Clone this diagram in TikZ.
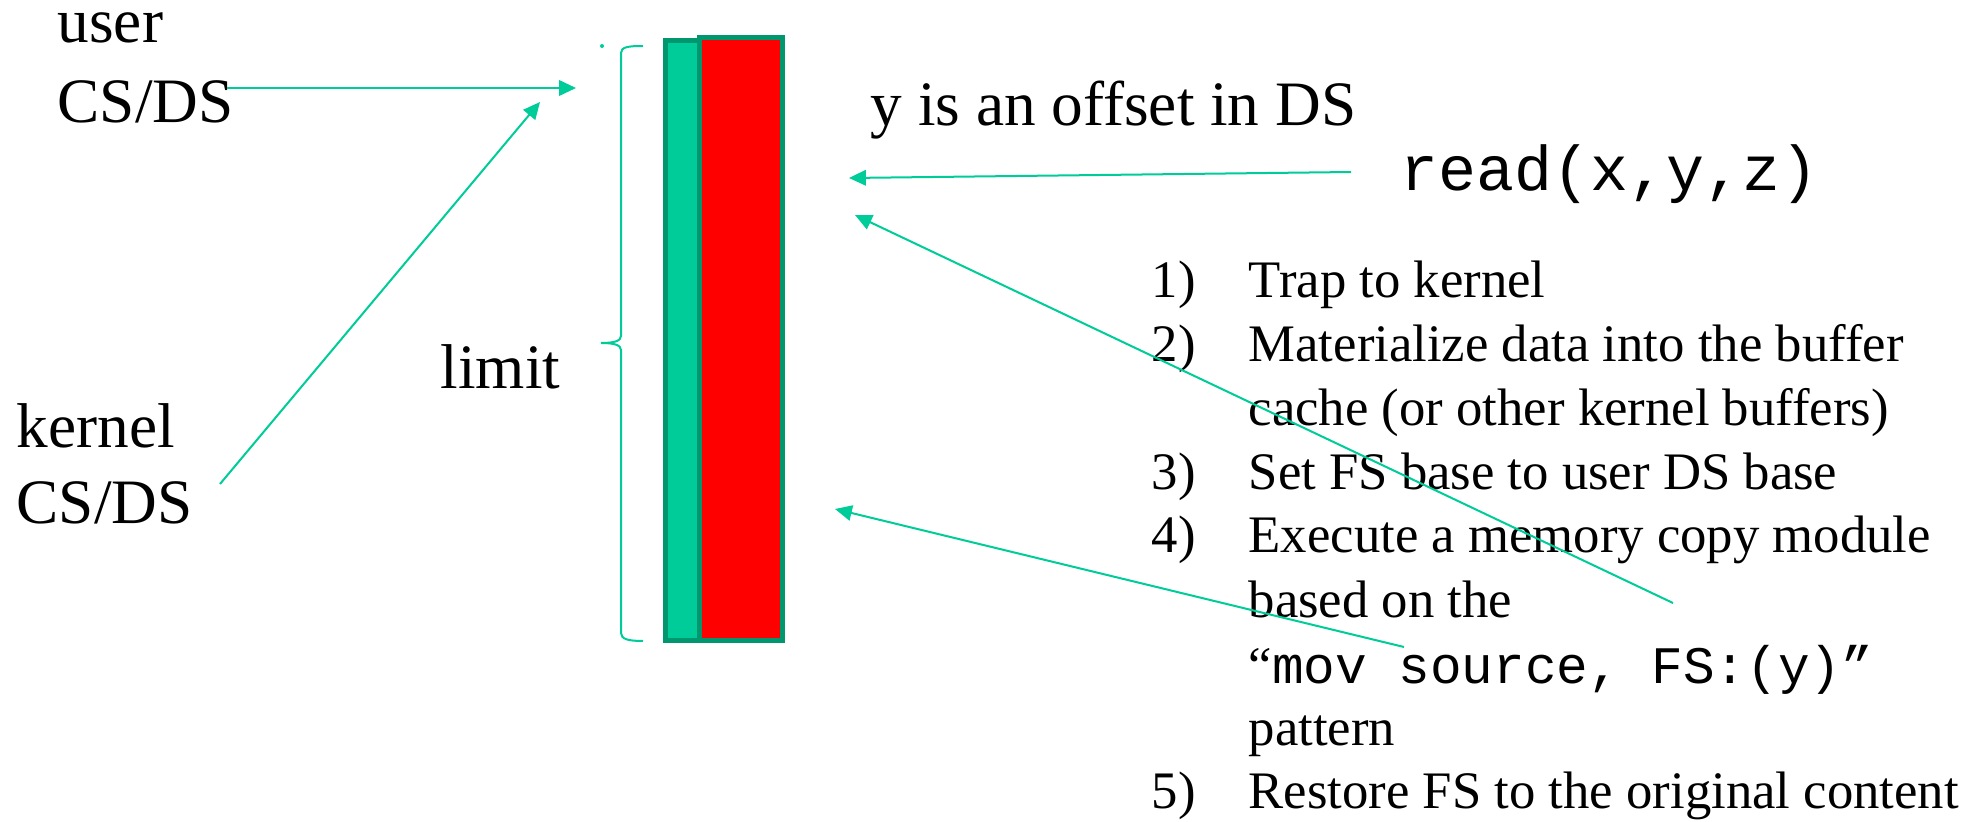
\documentclass[tikz,border=0pt]{standalone}
\usepackage{fontspec}
\setmainfont{Liberation Serif}
\setmonofont{Liberation Mono}
\usetikzlibrary{arrows.meta}
\definecolor{tealA}{RGB}{0,204,153}
\definecolor{tealB}{RGB}{0,150,110}
\begin{document}
\begin{tikzpicture}[x=0.1mm,y=-0.1mm,
  lbl/.style={anchor=base west,inner sep=0pt,font=\fontsize{18}{21}\selectfont},
  item/.style={anchor=base west,inner sep=0pt,font=\fontsize{15}{18}\selectfont},
  conn/.style={draw=tealA,line width=0.57pt,-{Triangle[length=4.8pt,width=4.4pt]}},
  bar/.style={draw=tealB,line width=1.42pt}]
\useasboundingbox (0,0) rectangle (1977,822);

% segment bars
\filldraw[bar,fill=tealA] (665.5,40.5) rectangle (700,640.5);
\filldraw[bar,fill=red] (699.5,37.5) rectangle (782.5,640.5);

% brace
\draw[tealA,line width=0.57pt] (643,46) .. controls (628,46) and (621,47) .. (621,53)
  -- (621,336) .. controls (621,341) and (614,343) .. (601,343)
  .. controls (614,343) and (621,345) .. (621,350)
  -- (621,633) .. controls (621,639) and (628,641) .. (643,641);
\fill[tealA] (602,46) circle (2);

% labels
\node[lbl] (user) at (57,43) {user};
\node[lbl] (userds) at (57,122) {CS/DS};
\node[lbl] (kernel) at (16,447) {kernel};
\node[lbl] (kernelds) at (16,523) {CS/DS};
\node[lbl] (limit) at (440,388) {limit};
\node[lbl] (offset) at (870,126) {y is an offset in DS};
\node[lbl,font=\fontsize{18}{21}\selectfont\ttfamily] (read) at (1400,190) {read(x,y,z)};

% list
\node[item] (n1) at (1151,298) {1)};
\node[item] (t1) at (1248,298) {Trap to kernel};
\node[item] (n2) at (1151,361) {2)};
\node[item] (t2) at (1248,361) {Materialize data into the buffer};
\node[item] (t2b) at (1248,425) {cache (or other kernel buffers)};
\node[item] (n3) at (1151,489) {3)};
\node[item] (t3) at (1248,489) {Set FS base to user DS base};
\node[item] (n4) at (1151,552) {4)};
\node[item] (t4) at (1248,552) {Execute a memory copy module};
\node[item] (t4b) at (1248,617) {based on the};
\node[item] (t4c) at (1248,683) {“\texttt{mov source, FS:(y)”}};
\node[item] (t4d) at (1248,745) {pattern};
\node[item] (n5) at (1151,808) {5)};
\node[item] (t5) at (1248,808) {Restore FS to the original content};

% connectors
\coordinate (a1s) at (227,88);  \coordinate (a1e) at (576,88);
\coordinate (a2s) at (220,484); \coordinate (a2e) at (540,102);
\coordinate (a3s) at (1351,172); \coordinate (a3e) at (849,178);
\coordinate (a4s) at (1673,603); \coordinate (a4e) at (855,215);
\coordinate (a5s) at (1404,647); \coordinate (a5e) at (835,509);
\draw[conn] (a1s) -- (a1e);
\draw[conn] (a2s) -- (a2e);
\draw[conn] (a3s) -- (a3e);
\draw[conn] (a4s) -- (a4e);
\draw[conn] (a5s) -- (a5e);
\end{tikzpicture}
\end{document}
